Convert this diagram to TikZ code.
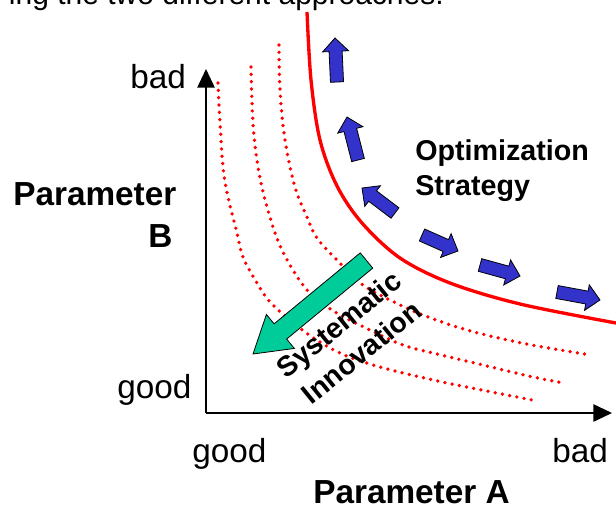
\documentclass[tikz,border=0pt]{standalone}
\usepackage{fontspec}
\setmainfont{Liberation Sans}
\usetikzlibrary{calc,arrows.meta}
\definecolor{arrblue}{HTML}{3333CC}
\definecolor{arrgreen}{HTML}{00CC99}
\newcommand{\blockarr}[6]{%
  \coordinate (ba-t) at #2;
  \coordinate (ba-h) at #3;
  \coordinate (ba-b) at ($(ba-h)!#6!(ba-t)$);
  \draw[#1] ($(ba-t)!#4!90:(ba-h)$) -- ($(ba-b)!#4!90:(ba-h)$) -- ($(ba-b)!#5!90:(ba-h)$)
    -- (ba-h) -- ($(ba-b)!#5!-90:(ba-h)$) -- ($(ba-b)!#4!-90:(ba-h)$) -- ($(ba-t)!#4!-90:(ba-h)$) -- cycle;
}
\begin{document}
\begin{tikzpicture}[x=0.75pt,y=-0.75pt,
  txt/.style={inner sep=0pt, anchor=base west, font=\fontsize{25pt}{30pt}\selectfont},
  btxt/.style={inner sep=0pt, anchor=base west, font=\fontsize{25pt}{30pt}\selectfont\bfseries},
  stxt/.style={inner sep=0pt, anchor=base west, font=\fontsize{21.5pt}{26pt}\selectfont\bfseries},
  axis/.style={line width=1.3pt, -{Triangle[width=13pt,length=14pt]}},
  front/.style={red, line width=2.5pt},
  iso/.style={red, line width=2.8pt, line cap=round, dash pattern=on 0pt off 5.5pt},
  bluearr/.style={fill=arrblue, draw=black, line width=0.6pt, line join=miter},
  greenarr/.style={fill=arrgreen, draw=black, line width=0.6pt, line join=miter}]
\useasboundingbox (0,0) rectangle (616,510);
\clip (0,0) rectangle (616,510);

% caption fragment at the top
\node[inner sep=0pt, anchor=base east, font=\fontsize{22.5pt}{27pt}\selectfont] (cap) at (444,5) {ing the two different approaches.};

% axes
\coordinate (o) at (206,413);
\coordinate (ytop) at (206,69);
\coordinate (xend) at (612,413);
\draw[axis] (o) -- (ytop);
\draw[axis] (o) -- (xend);

% dotted iso-lines
\draw[iso] plot[smooth, tension=0.6] coordinates {(218,83) (220,123) (223,167) (228,197) (237,233) (243,257) (257,283) (272,304) (305,332) (340,353) (380,367) (433,380) (467,387) (532,400)};
\draw[iso] plot[smooth, tension=0.6] coordinates {(251,67) (253,123) (258,167) (267,207) (282,250) (307,290) (335,312) (370,330) (403,345) (433,353) (483,365) (533,377) (564,383)};
\draw[iso] plot[smooth, tension=0.6] coordinates {(279,45) (280,90) (285,140) (295,187) (307,217) (317,238) (337,260) (363,285) (390,300) (423,315) (467,330) (517,342) (560,350) (591,355)};

% red front
\draw[front] plot[smooth, tension=0.55] coordinates {(307,12) (311,80) (320,140) (337,186) (362,223) (400,258) (450,283) (520,304) (616,323)};

% blue optimization arrows
\blockarr{bluearr}{(337,82)}{(335,38)}{4.9pt}{9.75pt}{10pt}
\blockarr{bluearr}{(358,160)}{(347,117)}{4.9pt}{9.75pt}{10pt}
\blockarr{bluearr}{(395,213)}{(362,188)}{4.9pt}{9.75pt}{10pt}
\blockarr{bluearr}{(422,235)}{(458,251)}{4.9pt}{9.75pt}{10pt}
\blockarr{bluearr}{(480,265)}{(520,276)}{4.9pt}{9.75pt}{10pt}
\blockarr{bluearr}{(557,292)}{(600,300)}{4.9pt}{9.75pt}{10pt}

% green innovation arrow
\blockarr{greenarr}{(366.5,260.5)}{(253,354)}{7.4pt}{16.5pt}{26.6pt}

% labels
\node[txt] (bbad) at (130,88) {bad};
\node[txt] (bgood) at (117,398) {good};
\node[txt] (agood) at (192,462) {good};
\node[txt] (abad) at (552,462) {bad};
\node[btxt] (pa) at (313,503) {Parameter A};
\node[btxt] (pb1) at (13,205) {Parameter};
\node[btxt] (pb2) at (148,247) {B};
\node[stxt] (opt1) at (415,160) {Optimization};
\node[stxt] (opt2) at (415,195) {Strategy};
\node[inner sep=0pt, rotate=39, align=center, font=\fontsize{21.3pt}{27pt}\selectfont\bfseries] (si) at (350,338) {Systematic\\Innovation};
\end{tikzpicture}
\end{document}
